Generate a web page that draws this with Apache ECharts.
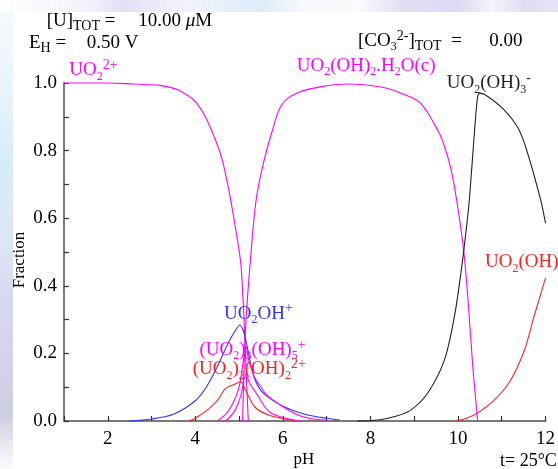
<!DOCTYPE html>
<html><head><meta charset="utf-8">
<script src="https://cdn.jsdelivr.net/npm/echarts@6/dist/echarts.min.js"></script>
<style>html,body{margin:0;padding:0;background:#fff}#c{width:558px;height:469px}</style>
</head><body><div id="c"></div><script>
// ---- data ----
const xTickLabels = ['2','4','6','8','10','12'];
const yTickLabels = ['0.0','0.2','0.4','0.6','0.8','1.0'];

const pH_UO2 = [1, 2, 2.6, 3.0, 3.2, 3.6, 4.0, 4.25, 4.45, 4.6, 4.7, 4.8, 4.9, 5.0, 5.05, 5.12, 5.17, 5.21];
const f_UO2  = [1.0, 1.0, 0.997, 0.995, 0.993, 0.98, 0.945, 0.895, 0.835, 0.78, 0.725, 0.66, 0.585, 0.505, 0.45, 0.28, 0.12, 0.0];

const pH_solid = [5.08, 5.15, 5.28, 5.39, 5.55, 5.75, 5.97, 6.35, 7.0, 7.49, 8.24, 8.7, 9.15, 9.54, 9.7, 9.85, 9.97, 10.13, 10.23, 10.34, 10.45];
const f_solid  = [0, 0.28, 0.51, 0.654, 0.76, 0.855, 0.935, 0.972, 0.992, 0.997, 0.988, 0.97, 0.94, 0.86, 0.81, 0.74, 0.654, 0.506, 0.358, 0.16, 0];

const pH_OH3 = [7.7, 8.18, 8.6, 8.93, 9.31, 9.69, 9.92, 10.07, 10.18, 10.26, 10.38, 10.45, 10.5, 10.68, 11.06, 11.36, 11.55, 11.89, 12];
const f_OH3  = [0, 0.003, 0.015, 0.033, 0.083, 0.18, 0.31, 0.44, 0.556, 0.654, 0.86, 0.96, 0.97, 0.96, 0.92, 0.87, 0.81, 0.654, 0.585];

const pH_OH4 = [9.95, 10.2, 10.45, 10.83, 11.2, 11.52, 11.74, 11.97, 12];
const f_OH4  = [0, 0.008, 0.024, 0.062, 0.12, 0.21, 0.31, 0.41, 0.423];

const pH_OH1 = [2.5, 3.0, 3.5, 4.0, 4.25, 4.5, 4.75, 4.9, 5.02, 5.1, 5.17, 5.28, 5.37, 5.5, 5.67, 6.0, 6.5, 7.0, 7.3];
const f_OH1  = [0, 0.006, 0.02, 0.06, 0.1, 0.16, 0.23, 0.265, 0.284, 0.265, 0.23, 0.16, 0.12, 0.09, 0.07, 0.044, 0.02, 0.008, 0.003];

const pH_22 = [3.85, 4.0, 4.3, 4.5, 4.68, 4.83, 4.95, 5.05, 5.12, 5.21, 5.37, 5.67, 6.05, 6.3];
const f_22  = [0, 0.008, 0.035, 0.06, 0.095, 0.105, 0.112, 0.116, 0.1, 0.075, 0.04, 0.018, 0.006, 0];

const pH_35 = [4.5, 4.7, 4.85, 5.0, 5.1, 5.16, 5.22, 5.35, 5.5, 5.65, 5.97, 6.3, 6.6, 7.0];
const f_35  = [0, 0.02, 0.05, 0.1, 0.18, 0.22, 0.18, 0.13, 0.1, 0.075, 0.045, 0.02, 0.008, 0.002];

const pH_47 = [4.7, 4.9, 5.05, 5.15, 5.25, 5.43, 5.6, 5.75, 6.05, 6.4];
const f_47  = [0, 0.03, 0.08, 0.14, 0.11, 0.075, 0.04, 0.022, 0.009, 0];

// ---- chart ----
const F = '"Liberation Serif", "Times New Roman", serif';
const MAG = '#ff00ff', BLUE = '#3333ff', RED = '#ff2020', BLK = '#222222';
const pts = (xs, ys) => xs.map((x, i) => [x, ys[i]]);
function line(name, xs, ys, color) {
  return { name, type: 'line', data: pts(xs, ys), showSymbol: false, symbol: 'none',
    smooth: 0.3, clip: false, silent: true, lineStyle: { color, width: 1.1 }, animation: false };
}
function rich(color) {
  return {
    n: { fontFamily: F, fontSize: 19, lineHeight: 24, fill: color },
    s: { fontFamily: F, fontSize: 12, lineHeight: 8, verticalAlign: 'bottom', fill: color },
    t: { fontFamily: F, fontSize: 14, lineHeight: 8, verticalAlign: 'bottom', fill: color },
    p: { fontFamily: F, fontSize: 14, lineHeight: 18, verticalAlign: 'top', fill: color },
    i: { fontFamily: F, fontSize: 19, lineHeight: 24, fontStyle: 'italic', fill: color }
  };
}
function txt(x, y, text, color, opts) {
  opts = opts || {};
  return { type: 'text', x, y, rotation: opts.rotation || 0, z: 10,
    style: { text, fill: color, font: (opts.size || 19) + 'px ' + F, rich: rich(color),
      align: opts.align || 'left', textAlign: opts.align || 'left',
      verticalAlign: 'middle', textVerticalAlign: 'middle' } };
}
const bg = [
  { type: 'rect', shape: { x: 0, y: 0, width: 558, height: 12 }, z: -10,
    style: { fill: new echarts.graphic.LinearGradient(0, 0, 1, 0, [
      { offset: 0, color: '#ffffff' }, { offset: 0.16, color: '#f2f2fb' }, { offset: 0.22, color: '#e2e0f5' },
      { offset: 0.33, color: '#f3f3fa' }, { offset: 0.47, color: '#dcedf9' }, { offset: 0.54, color: '#f6f8fc' },
      { offset: 0.64, color: '#fbfbfd' }, { offset: 0.72, color: '#e2dff5' }, { offset: 0.82, color: '#dcd9f3' },
      { offset: 0.88, color: '#f4f4fb' }, { offset: 0.94, color: '#e0ddf4' }, { offset: 1, color: '#e6e4f6' }]) } },
  { type: 'rect', shape: { x: 0, y: 12, width: 13, height: 457 }, z: -10,
    style: { fill: new echarts.graphic.LinearGradient(0, 0, 0, 1, [
      { offset: 0, color: '#f6f9fc' }, { offset: 0.2, color: '#e6f2fb' }, { offset: 0.33, color: '#d6ecf9' },
      { offset: 0.5, color: '#dde6f6' }, { offset: 0.62, color: '#d8d8f0' }, { offset: 0.78, color: '#d4d2ea' },
      { offset: 0.88, color: '#cdcde0' }, { offset: 0.95, color: '#eaeaf2' }, { offset: 1, color: '#fbfbfd' }]) } }
];
const labels = [
  txt(46.7, 21, '{n|[U]}{t|TOT}{n| =}', '#000'),
  txt(138.3, 21, '{n|10.00 }{i|\u03bc}{n|M}', '#000'),
  txt(29, 43, '{n|E}{t|H}{n| =}', '#000'),
  txt(86.7, 43, '{n|0.50 V}', '#000'),
  txt(358, 41, '{n|[CO}{s|3}{p|2-}{n|]}{t|TOT}{n|  =}', '#000'),
  txt(489.3, 41, '{n|0.00}', '#000'),
  txt(69.3, 70.5, '{n|UO}{s|2}{p|2+}', MAG),
  txt(296.7, 66, '{n|UO}{s|2}{n|(OH)}{s|2}{n|.H}{s|2}{n|O(c)}', MAG),
  txt(446.7, 83.5, '{n|UO}{s|2}{n|(OH)}{s|3}{p|-}', BLK),
  txt(485, 262.5, '{n|UO}{s|2}{n|(OH)}{s|4}{p|2-}', RED),
  txt(224, 313.8, '{n|UO}{s|2}{n|OH}{p|+}', BLUE),
  txt(199.5, 350, '{n|(UO}{s|2}{n|)}{s|3}{n|(OH)}{s|5}{p|+}', MAG),
  txt(192.7, 369.5, '{n|(UO}{s|2}{n|)}{s|2}{n|(OH)}{s|2}{p|2+}', RED),
  txt(19.5, 260, 'Fraction', '#000', { rotation: Math.PI / 2, align: 'center', size: 17 }),
  txt(304, 460, 'pH', '#000', { align: 'center', size: 17 }),
  txt(500, 461, 't= 25\u00b0C', '#000', { size: 18 })
];

const chart = echarts.init(document.getElementById('c'), null, { renderer: 'canvas' });
chart.setOption({
  animation: false,
  backgroundColor: '#ffffff',
  grid: { left: 64, right: 10, top: 83, bottom: 48 },
  xAxis: {
    type: 'value', min: 1, max: 12, interval: 1,
    axisLine: { lineStyle: { color: '#7a7a7a', width: 2 } },
    axisTick: { inside: true, length: 5, lineStyle: { color: '#333', width: 1.2 } },
    splitLine: { show: false },
    axisLabel: { margin: 9, color: '#000', fontFamily: F, fontSize: 19,
      formatter: v => { const s = String(Math.round(v)); return xTickLabels.includes(s) ? s : ''; } }
  },
  yAxis: {
    type: 'value', min: 0, max: 1, interval: 0.1,
    axisLine: { show: true, lineStyle: { color: '#7a7a7a', width: 2 } },
    axisTick: { show: true, inside: true, length: 5, lineStyle: { color: '#333', width: 1.2 } },
    splitLine: { show: false },
    axisLabel: { margin: 7, color: '#000', fontFamily: F, fontSize: 19,
      formatter: v => { const s = v.toFixed(1); return yTickLabels.includes(s) ? s : ''; } }
  },
  series: [
    line('UO2 2+', pH_UO2, f_UO2, MAG),
    line('UO2(OH)2.H2O(c)', pH_solid, f_solid, MAG),
    line('UO2(OH)3-', pH_OH3, f_OH3, BLK),
    line('UO2(OH)4 2-', pH_OH4, f_OH4, RED),
    line('UO2OH+', pH_OH1, f_OH1, BLUE),
    line('(UO2)2(OH)2 2+', pH_22, f_22, RED),
    line('(UO2)3(OH)5+', pH_35, f_35, MAG),
    line('(UO2)4(OH)7+', pH_47, f_47, MAG)
  ],
  graphic: bg.concat(labels)
});
</script></body></html>
